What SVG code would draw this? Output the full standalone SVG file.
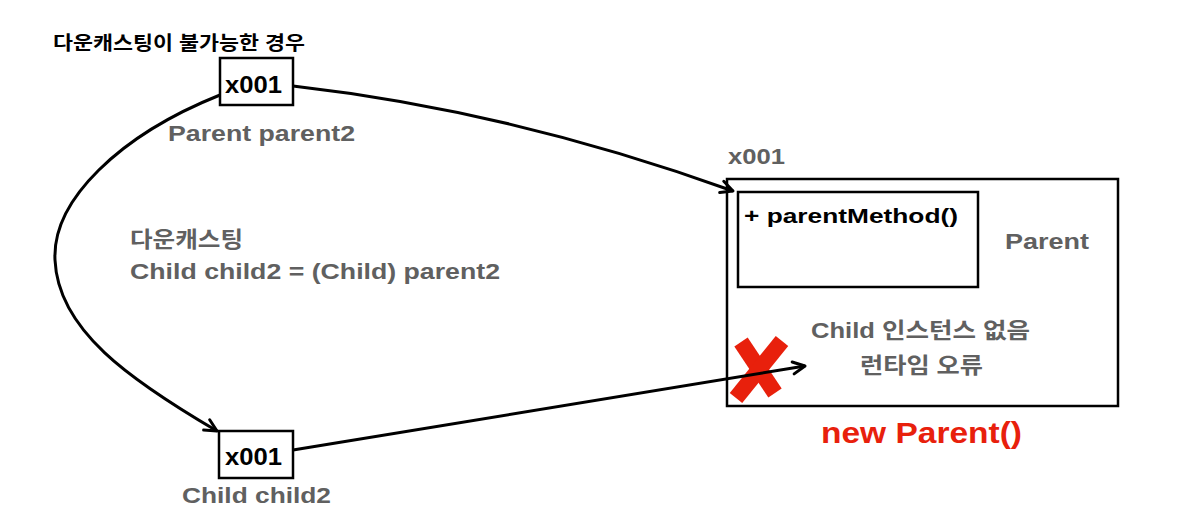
<svg xmlns="http://www.w3.org/2000/svg" width="1192" height="525" viewBox="0 0 1192 525">
<style>
.t{font-family:"Liberation Sans","Noto Sans CJK KR",Arial,sans-serif;font-weight:bold}
.g{fill:#606060}
.k{fill:#000}
.box{fill:#fff;stroke:#000;stroke-width:2.5}
.frame{fill:none;stroke:#000;stroke-width:2.5}
.ln{fill:none;stroke:#000;stroke-width:3}
</style>
<defs>
<marker id="ah" viewBox="0 0 16 16" refX="14" refY="8" markerWidth="16" markerHeight="16" markerUnits="userSpaceOnUse" orient="auto">
<path d="M2,2 L14,8 L2,14" fill="none" stroke="#000" stroke-width="3" stroke-linecap="round" stroke-linejoin="round"/>
</marker>
</defs>
<rect width="1192" height="525" fill="#fff"/>
<text class="t k" x="53" y="50" font-size="19" textLength="252" lengthAdjust="spacingAndGlyphs">다운캐스팅이 불가능한 경우</text>
<g id="parent-instance">
<text class="t g" x="728" y="164" font-size="22" textLength="57" lengthAdjust="spacingAndGlyphs">x001</text>
<rect class="frame" x="727" y="179" width="391" height="227"/>
<rect class="box" x="738" y="192" width="240" height="95"/>
<text class="t k" x="744" y="223" font-size="21" textLength="214" lengthAdjust="spacingAndGlyphs">+ parentMethod()</text>
<text class="t g" x="1005" y="249" font-size="22" textLength="84" lengthAdjust="spacingAndGlyphs">Parent</text>
<text class="t g" x="811" y="338" font-size="22" textLength="219" lengthAdjust="spacingAndGlyphs">Child 인스턴스 없음</text>
<text class="t g" x="860" y="373" font-size="22" textLength="123" lengthAdjust="spacingAndGlyphs">런타임 오류</text>
<text class="t" x="821" y="443" font-size="30" fill="#e8200c" textLength="201" lengthAdjust="spacingAndGlyphs">new Parent()</text>
</g>
<g id="error-mark" stroke="#e8200c" stroke-width="16" stroke-linecap="butt">
<line x1="741" y1="342" x2="775" y2="393"/>
<line x1="782" y1="341" x2="736" y2="398"/>
</g>
<g id="connectors">
<path class="ln" d="M293,86 Q512,111 733,191" marker-end="url(#ah)"/>
<path class="ln" d="M220,95 C120,135 52,200 55,260 C58,330 130,380 217,431" marker-end="url(#ah)"/>
<path class="ln" d="M293,450 L805,366" marker-end="url(#ah)"/>
</g>
<g id="parent2">
<rect class="box" x="220" y="58" width="73" height="47"/>
<text class="t k" x="225" y="93" font-size="24" textLength="57" lengthAdjust="spacingAndGlyphs">x001</text>
<text class="t g" x="168" y="141" font-size="22" textLength="187" lengthAdjust="spacingAndGlyphs">Parent parent2</text>
</g>
<g id="child2">
<rect class="box" x="219" y="431" width="74" height="47"/>
<text class="t k" x="225" y="465" font-size="24" textLength="57" lengthAdjust="spacingAndGlyphs">x001</text>
<text class="t g" x="182" y="503" font-size="22" textLength="149" lengthAdjust="spacingAndGlyphs">Child child2</text>
</g>
<g id="cast-label">
<text class="t g" x="130" y="247" font-size="22" textLength="113" lengthAdjust="spacingAndGlyphs">다운캐스팅</text>
<text class="t g" x="130" y="279" font-size="22" textLength="370" lengthAdjust="spacingAndGlyphs">Child child2 = (Child) parent2</text>
</g>
</svg>
